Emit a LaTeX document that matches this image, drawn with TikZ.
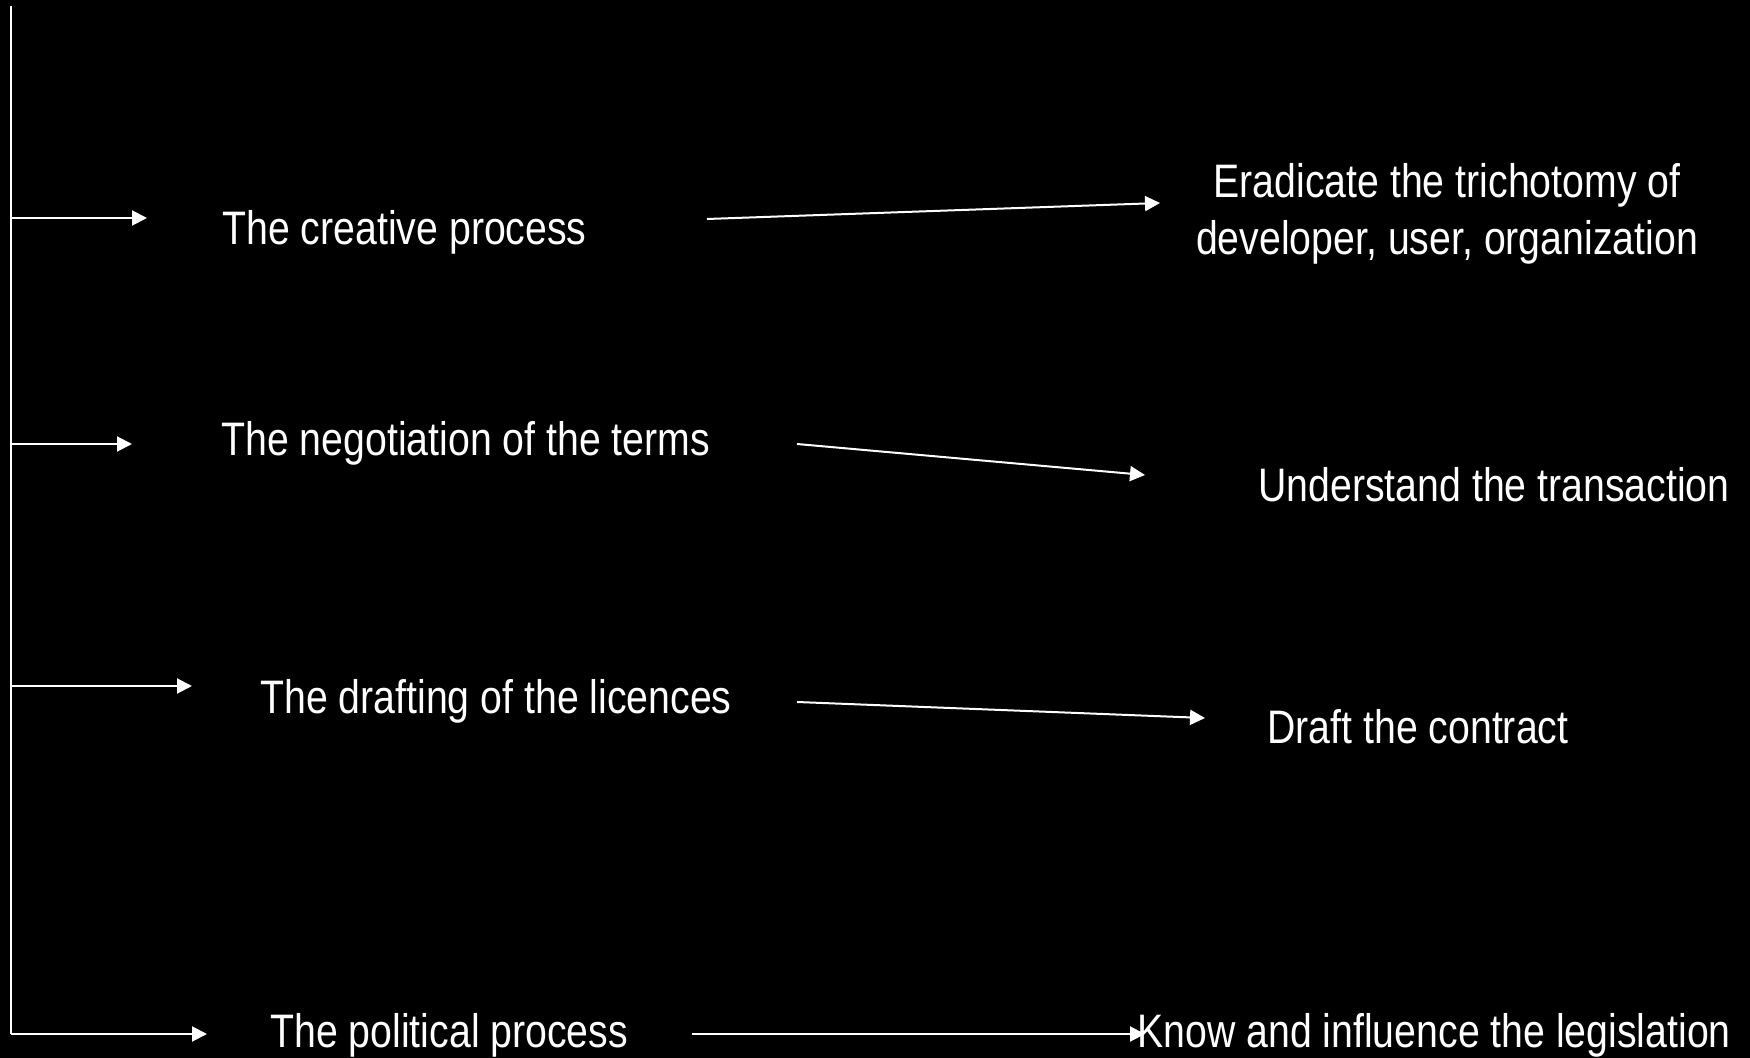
\documentclass[tikz,border=0pt]{standalone}
\usepackage{fontspec}
\setmainfont{Liberation Sans}[FakeStretch=0.835]
\usetikzlibrary{arrows.meta}
\begin{document}
\begin{tikzpicture}[x=0.5pt,y=-0.5pt,
  lbl/.style={text=white,inner sep=0pt,anchor=base west,font=\fontsize{23.5}{28.5}\selectfont},
  line/.style={draw=white,line width=1pt},
  arr/.style={line,-{Triangle[length=7.5pt,width=7.5pt]}}]
\fill[black] (0,0) rectangle (1750,1058);
\useasboundingbox (0,0) rectangle (1750,1058);
% left texts
\node[lbl] (p1) at (222,245) {The creative process};
\node[lbl] (p2) at (221,456) {The negotiation of the terms};
\node[lbl] (p3) at (260,713) {The drafting of the licences};
\node[lbl] (p4) at (270,1047) {The political process};
% right texts
\node[lbl,anchor=base,align=center] (g1) at (1447,255) {Eradicate the trichotomy of\\developer, user, organization};
\node[lbl] (g2) at (1258,502) {Understand the transaction};
\node[lbl] (g3) at (1267,743) {Draft the contract};
\node[lbl] (g4) at (1137,1047) {Know and influence the legislation};
% spine
\coordinate (top) at (11,6);
\coordinate (b1) at (11,218);
\coordinate (b2) at (11,444);
\coordinate (b3) at (11,686);
\coordinate (b4) at (11,1034);
\coordinate (t1) at (147,218);
\coordinate (t2) at (132,444);
\coordinate (t3) at (192,686);
\coordinate (t4) at (207,1034);
\draw[line] (top) -- (b4);
\draw[arr] (b1) -- (t1);
\draw[arr] (b2) -- (t2);
\draw[arr] (b3) -- (t3);
\draw[arr] (b4) -- (t4);
% connectors
\coordinate (c1s) at (707,219);
\coordinate (c1e) at (1160,203);
\coordinate (c2s) at (797,444);
\coordinate (c2e) at (1145,475);
\coordinate (c3s) at (797,702);
\coordinate (c3e) at (1205,718);
\coordinate (c4s) at (692,1034);
\coordinate (c4e) at (1145,1034);
\draw[arr] (c1s) -- (c1e);
\draw[arr] (c2s) -- (c2e);
\draw[arr] (c3s) -- (c3e);
\draw[arr] (c4s) -- (c4e);
\end{tikzpicture}
\end{document}
